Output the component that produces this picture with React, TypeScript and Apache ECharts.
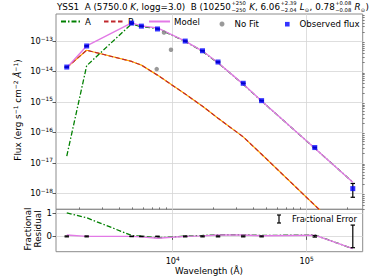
import React, { useEffect, useRef } from 'react';
import * as echarts from 'echarts';

// ---- data ----
const wavelengths = [1620, 2280, 4940, 5840, 7700, 12400, 16700, 21800, 33600, 46100, 115000, 221000];
const observedFlux = [1.40e-14, 6.9e-14, 3.9e-13, 3.1e-13, 2.5e-13, 1.0e-13, 4.8e-14, 2.05e-14, 4.1e-15, 1.1e-15, 3.16e-17, 1.41e-18];
const fractionalError = [0.02, 0.02, 0.01, 0.01, 0.01, 0.02, 0.02, 0.02, 0.02, 0.02, 0.03, 0.48];
const modelFlux = [1.32e-14, 6.9e-14, 3.95e-13, 3.16e-13, 2.7e-13, 1.0e-13, 4.7e-14, 1.93e-14, 3.85e-15, 1.07e-15, 3.0e-17, 2.3e-18];
const fluxA = [1.66e-17, 1.55e-14, 3.7e-13, 2.95e-13, 2.6e-13, 9.8e-14, 4.6e-14, 1.9e-14, 3.8e-15, 1.06e-15, 3.0e-17, 2.3e-18];
const fluxB = [1.35e-14, 5.0e-14, 2.14e-14, 1.62e-14, 7.6e-15, 1.82e-15, 7.2e-16, 2.9e-16, 7.1e-17, 1.9e-17, 4.0e-19, 2.6e-20];
const residualA = [1.0, 0.79, 0.04, 0.01, -0.06, 0.01, 0.04, 0.07, 0.07, 0.04, 0.06, -0.52];
const residualModel = [0.06, 0.0, 0.0, -0.02, -0.08, 0.0, 0.02, 0.06, 0.06, 0.03, 0.05, -0.52];
const noFitWavelengths = [7600, 8610, 9710];
const noFitFlux = [1.2e-14, 1.9e-13, 5.2e-14];
const xDecades = [4, 5];
const yDecades = [-18, -17, -16, -15, -14, -13];
const residualTicks = [0, 1];

const FONT = 'DejaVu Sans';
const X_MIN = Math.log10(1346);
const X_MAX = Math.log10(262000);
const Y_MIN = -18.53;
const Y_MAX = -12.11;
const R_MIN = -0.65;
const R_MAX = 1.15;

function minorLogs(lo: number, hi: number): number[] {
  const out: number[] = [];
  for (let d = Math.floor(lo); d <= Math.ceil(hi); d++) {
    for (let k = 2; k <= 9; k++) {
      const v = d + Math.log10(k);
      if (v > lo && v < hi) out.push(v);
    }
  }
  return out;
}

function buildTitle(): any[] {
  type Part = { t?: string; it?: boolean; sup?: string; sub?: string; sub1?: string };
  const parts: Part[] = [
    { t: 'YSS1  A (5750.0 ' }, { t: 'K', it: true }, { t: ', logg=3.0)  B (10250' },
    { sup: '+250', sub: '\u2212250' }, { t: ' ' }, { t: 'K', it: true }, { t: ', 6.06' },
    { sup: '+2.39', sub: '\u22122.04' }, { t: ' ' }, { t: 'L', it: true }, { sub1: '\u2299' },
    { t: ', 0.78' }, { sup: '+0.08', sub: '\u22120.08' }, { t: ' ' }, { t: 'R', it: true },
    { sub1: '\u2299' }, { t: ')' },
  ];
  const canvas = document.createElement('canvas');
  const ctx = canvas.getContext('2d') as CanvasRenderingContext2D;
  const meas = (t: string, size: number, it?: boolean) => {
    ctx.font = `${it ? 'italic ' : ''}${size}px "${FONT}"`;
    return ctx.measureText(t).width;
  };
  const widthAt = (s: number) => {
    let w = 0;
    const ss = s * 0.6;
    for (const p of parts) {
      if (p.t !== undefined) w += meas(p.t, s, p.it);
      else if (p.sup !== undefined) w += Math.max(meas(p.sup, ss), meas(p.sub as string, ss)) + 1;
      else if (p.sub1 !== undefined) w += meas(p.sub1, ss) + 0.5;
    }
    return w;
  };
  const target = 312.5;
  let size = 9;
  const w9 = widthAt(9);
  if (w9 > 0) size = 9 * target / w9;
  const ss = size * 0.6;
  const els: any[] = [];
  let x = 57;
  const yMid = 7.3;
  for (const p of parts) {
    if (p.t !== undefined) {
      els.push({ type: 'text', x, y: yMid, style: { text: p.t, fontSize: size, fontFamily: FONT, fontStyle: p.it ? 'italic' : 'normal', fill: '#000', verticalAlign: 'middle', align: 'left' } });
      x += meas(p.t, size, p.it);
    } else if (p.sup !== undefined) {
      els.push({ type: 'text', x: x + 0.5, y: 3.3, style: { text: p.sup, fontSize: ss, fontFamily: FONT, fill: '#000', verticalAlign: 'middle', align: 'left' } });
      els.push({ type: 'text', x: x + 0.5, y: 10.4, style: { text: p.sub, fontSize: ss, fontFamily: FONT, fill: '#000', verticalAlign: 'middle', align: 'left' } });
      x += Math.max(meas(p.sup, ss), meas(p.sub as string, ss)) + 1;
    } else if (p.sub1 !== undefined) {
      els.push({ type: 'text', x, y: 10, style: { text: p.sub1, fontSize: ss, fontFamily: FONT, fill: '#000', verticalAlign: 'middle', align: 'left' } });
      x += meas(p.sub1, ss) + 0.5;
    }
  }
  return els;
}

export default function App() {
  const ref = useRef<HTMLDivElement>(null);
  useEffect(() => {
    if (!ref.current) return;
    const chart = echarts.init(ref.current, undefined, { renderer: 'svg' });
    const lx = wavelengths.map((w) => Math.log10(w));
    const pts = (arr: number[]) => arr.map((v, i) => [lx[i], Math.log10(v)]);
    const rpts = (arr: number[]) => arr.map((v, i) => [lx[i], v]);
    const mainErr = observedFlux.map((f, i) => [lx[i], Math.log10(f * (1 - fractionalError[i])), Math.log10(f * (1 + fractionalError[i]))]);
    const residErr = fractionalError.map((e, i) => [lx[i], -e, e]);
    const errorRender = (params: any, api: any) => {
      const x = api.value(0);
      const p1 = api.coord([x, api.value(1)]);
      const p2 = api.coord([x, api.value(2)]);
      const cw = 2.2;
      const st = { stroke: '#000', lineWidth: 1.2 };
      return {
        type: 'group',
        children: [
          { type: 'line', shape: { x1: p1[0], y1: p1[1], x2: p2[0], y2: p2[1] }, style: st },
          { type: 'line', shape: { x1: p1[0] - cw, y1: p1[1], x2: p1[0] + cw, y2: p1[1] }, style: st },
          { type: 'line', shape: { x1: p2[0] - cw, y1: p2[1], x2: p2[0] + cw, y2: p2[1] }, style: st },
        ],
      };
    };
    const tickLabelRich = {
      b: { fontSize: 8.2, fontFamily: FONT, color: '#000', lineHeight: 11 },
      s: { fontSize: 5.8, fontFamily: FONT, color: '#000', verticalAlign: 'top', lineHeight: 7 },
    };
    const majorTick = { show: true, length: 3.5, lineStyle: { color: '#333', width: 0.8 } };
    const minorTickStyle = { show: true, length: 2, lineStyle: { color: '#333', width: 0.6 } };
    const gridLine = { show: true, lineStyle: { color: '#d6d6d6', width: 0.8, type: 'solid' as const } };
    const noLine = { show: false };
    const legendBase = {
      orient: 'horizontal', padding: 0, selectedMode: false, itemGap: 0,
      textStyle: { fontSize: 8.6, fontFamily: FONT, color: '#000', padding: [0, 0, 0, -1] },
    };
    const legendScatterText = { fontSize: 8.6, fontFamily: FONT, color: '#000', padding: [0, 0, 0, 5] };

    const option: any = {
      animation: false,
      textStyle: { fontFamily: FONT },
      grid: [
        { left: 56, top: 14, width: 306.7, height: 195.3, show: true, borderColor: '#8c8c8c', borderWidth: 1, containLabel: false },
        { left: 56, top: 209.3, width: 306.7, height: 42.4, show: true, borderColor: '#8c8c8c', borderWidth: 1, containLabel: false },
      ],
      xAxis: [
        { gridIndex: 0, type: 'value', min: X_MIN, max: X_MAX, axisLine: noLine, axisTick: { show: false, customValues: xDecades }, axisLabel: { show: false, customValues: xDecades }, splitLine: gridLine },
        {
          gridIndex: 1, type: 'value', min: X_MIN, max: X_MAX, axisLine: noLine,
          axisTick: { ...majorTick, customValues: xDecades },
          axisLabel: { show: true, customValues: xDecades, margin: 4, formatter: (v: number) => `{b|10}{s|${Math.round(v)}}`, rich: tickLabelRich },
          splitLine: gridLine,
        },
        { gridIndex: 1, type: 'value', min: X_MIN, max: X_MAX, axisLine: noLine, axisTick: { ...minorTickStyle, customValues: minorLogs(X_MIN, X_MAX) }, axisLabel: { show: false, customValues: minorLogs(X_MIN, X_MAX) }, splitLine: noLine },
      ],
      yAxis: [
        {
          gridIndex: 0, type: 'value', min: Y_MIN, max: Y_MAX, axisLine: noLine,
          axisTick: { ...majorTick, customValues: yDecades },
          axisLabel: { show: true, customValues: yDecades, margin: 3, formatter: (v: number) => `{b|10}{s|\u2212${Math.round(-v)}}`, rich: tickLabelRich },
          splitLine: gridLine,
        },
        { gridIndex: 0, type: 'value', min: Y_MIN, max: Y_MAX, axisLine: noLine, axisTick: { ...minorTickStyle, customValues: minorLogs(Y_MIN, Y_MAX) }, axisLabel: { show: false, customValues: minorLogs(Y_MIN, Y_MAX) }, splitLine: noLine },
        {
          gridIndex: 1, type: 'value', min: R_MIN, max: R_MAX, axisLine: noLine,
          axisTick: { ...majorTick, customValues: residualTicks },
          axisLabel: { show: true, customValues: residualTicks, margin: 4, fontSize: 8.6, color: '#000', fontFamily: FONT },
          splitLine: gridLine,
        },
      ],
      legend: [
        { ...legendBase, left: 60, top: 17, itemWidth: 20, itemHeight: 10, data: [{ name: 'A', itemStyle: { opacity: 0 } }] },
        { ...legendBase, left: 103, top: 17, itemWidth: 20, itemHeight: 10, data: [{ name: 'B', itemStyle: { opacity: 0 } }] },
        { ...legendBase, left: 148, top: 17, itemWidth: 21, itemHeight: 10, data: [{ name: 'Model', itemStyle: { opacity: 0 } }] },
        { ...legendBase, left: 219.5, top: 19.5, itemWidth: 5, itemHeight: 5, textStyle: legendScatterText, data: ['No Fit'] },
        { ...legendBase, left: 285, top: 19.7, itemWidth: 4.6, itemHeight: 4.6, textStyle: legendScatterText, data: ['Observed flux'] },
      ],
      graphic: [
        ...buildTitle(),
        {
          type: 'text', x: 18, y: 110, rotation: Math.PI / 2,
          style: {
            text: 'Flux (erg s{s|\u22121} cm{s|\u22122} {i|\u00C5}{s|\u22121})', align: 'center', verticalAlign: 'middle',
            fontSize: 8.8, fontFamily: FONT, fill: '#000',
            rich: {
              s: { fontSize: 6, fontFamily: FONT, verticalAlign: 'top', lineHeight: 7, fill: '#000' },
              i: { fontSize: 8.8, fontFamily: FONT, fontStyle: 'italic', fill: '#000', lineHeight: 12 },
            },
          },
        },
        {
          type: 'text', x: 33, y: 229, rotation: Math.PI / 2,
          style: { text: 'Fractional\nResidual', align: 'center', verticalAlign: 'middle', fontSize: 8.8, lineHeight: 10, fontFamily: FONT, fill: '#000' },
        },
        {
          type: 'text', x: 209, y: 271,
          style: { text: 'Wavelength (\u00C5)', align: 'center', verticalAlign: 'middle', fontSize: 8.8, fontFamily: FONT, fill: '#000' },
        },
        { type: 'line', shape: { x1: 279, y1: 215, x2: 279, y2: 223 }, style: { stroke: '#000', lineWidth: 1.2 } },
        { type: 'line', shape: { x1: 277, y1: 215, x2: 281, y2: 215 }, style: { stroke: '#000', lineWidth: 1.2 } },
        { type: 'line', shape: { x1: 277, y1: 223, x2: 281, y2: 223 }, style: { stroke: '#000', lineWidth: 1.2 } },
        {
          type: 'text', x: 292, y: 219,
          style: { text: 'Fractional Error', align: 'left', verticalAlign: 'middle', fontSize: 8.5, fontFamily: FONT, fill: '#000' },
        },
      ],
      series: [
        { name: 'B-orange', type: 'line', xAxisIndex: 0, yAxisIndex: 0, data: pts(fluxB), symbol: 'none', lineStyle: { color: '#ffa500', width: 1.2 }, z: 2 },
        { name: 'B', type: 'line', xAxisIndex: 0, yAxisIndex: 0, data: pts(fluxB), symbol: 'none', color: '#d62728', lineStyle: { color: '#c0282d', width: 1.2, type: [4.5, 2.5] }, z: 3 },
        { name: 'A', type: 'line', xAxisIndex: 0, yAxisIndex: 0, data: pts(fluxA), symbol: 'none', color: '#008000', lineStyle: { color: '#008000', width: 1.3, type: [5, 2, 1.5, 2] }, z: 3 },
        { name: 'Model', type: 'line', xAxisIndex: 0, yAxisIndex: 0, data: pts(modelFlux), symbol: 'none', color: '#ee82ee', lineStyle: { color: '#e27ae6', width: 1.4 }, z: 4 },
        { name: 'No Fit', type: 'scatter', xAxisIndex: 0, yAxisIndex: 0, data: noFitWavelengths.map((w, i) => [Math.log10(w), Math.log10(noFitFlux[i])]), symbol: 'circle', symbolSize: 4.5, itemStyle: { color: '#808080' }, z: 4 },
        { name: 'errMain', type: 'custom', xAxisIndex: 0, yAxisIndex: 0, data: mainErr, renderItem: errorRender, encode: { x: 0, y: [1, 2] }, z: 5, silent: true },
        { name: 'Observed flux', type: 'scatter', xAxisIndex: 0, yAxisIndex: 0, data: pts(observedFlux), symbol: 'rect', symbolSize: 5, itemStyle: { color: '#0000ff' }, z: 6 },
        { name: 'resA', type: 'line', xAxisIndex: 1, yAxisIndex: 2, data: rpts(residualA), symbol: 'none', lineStyle: { color: '#008000', width: 1.3, type: [5, 2, 1.5, 2] }, z: 3 },
        { name: 'resModel', type: 'line', xAxisIndex: 1, yAxisIndex: 2, data: rpts(residualModel), symbol: 'none', lineStyle: { color: '#e27ae6', width: 1.4 }, z: 4 },
        { name: 'errResid', type: 'custom', xAxisIndex: 1, yAxisIndex: 2, data: residErr, renderItem: errorRender, encode: { x: 0, y: [1, 2] }, z: 5, silent: true },
      ],
    };
    chart.setOption(option);
    return () => chart.dispose();
  }, []);
  return <div ref={ref} style={{ width: 374, height: 280, position: 'absolute', left: 0, top: 0 }} />;
}
